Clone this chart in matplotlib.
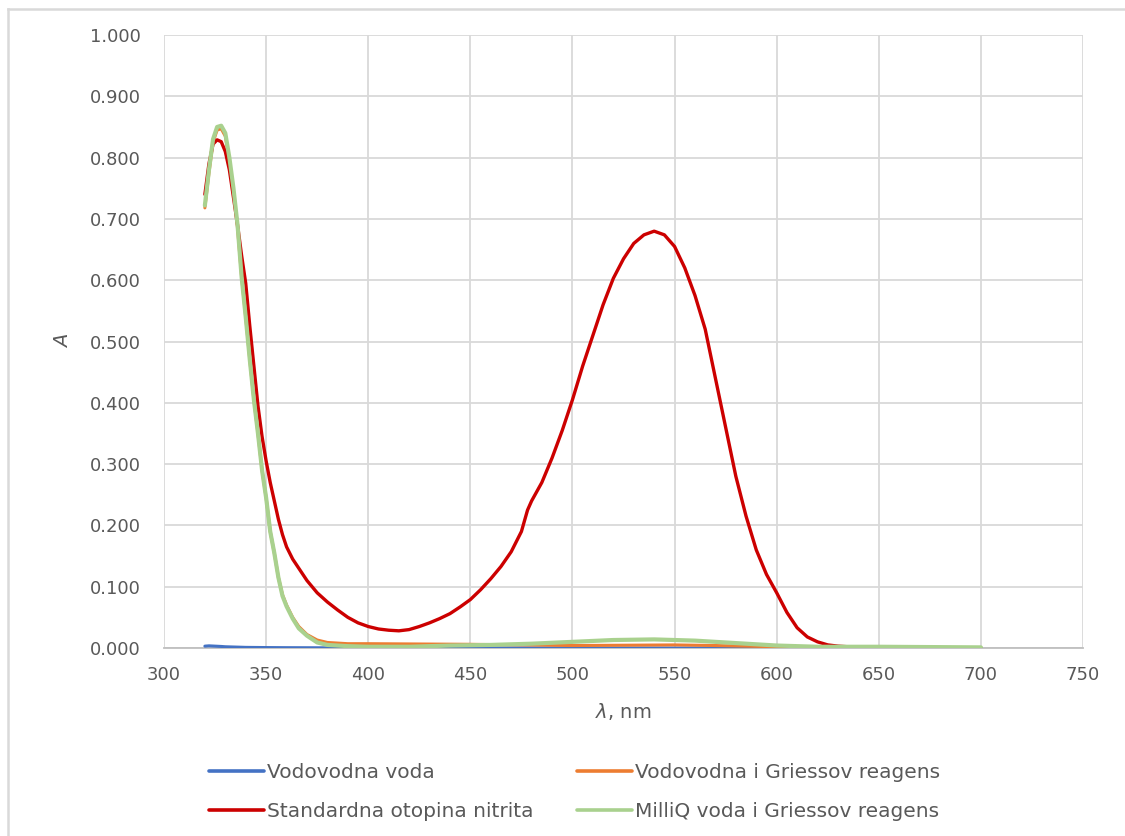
import matplotlib
matplotlib.use("Agg")
import matplotlib.pyplot as plt
from matplotlib.lines import Line2D

# wavelength (nm) and absorbance
blue_nm = [320, 322, 325, 328, 330, 335, 340, 350, 360, 380, 400, 450, 500, 550, 600, 650, 700]
blue_A = [0.003, 0.0035, 0.003, 0.0025, 0.002, 0.0015, 0.001, 0.0007, 0.0005, 0.0003, 0.0002, 0.0001, 0.0, 0.0, 0.0, 0.0, 0.0]

orange_nm = [320, 322, 324, 326, 328, 330, 332, 334, 336, 338, 340, 342, 344, 346, 348, 350,
             352, 354, 356, 358, 360, 363, 366, 370, 375, 380, 390, 400, 450, 500, 550, 570,
             600, 650, 700]
orange_A = [0.718, 0.775, 0.825, 0.845, 0.847, 0.835, 0.795, 0.745, 0.685, 0.605, 0.54, 0.47,
            0.405, 0.35, 0.29, 0.245, 0.19, 0.155, 0.115, 0.087, 0.07, 0.05, 0.035, 0.022, 0.013,
            0.009, 0.007, 0.007, 0.006, 0.004, 0.005, 0.004, 0.002, 0.001, 0.0]

red_nm = [320, 322, 324, 326, 328, 330, 332, 334, 336, 338, 340, 342, 344, 346, 348, 350, 352,
          354, 356, 358, 360, 363, 366, 370, 375, 380, 385, 390, 395, 400, 405, 410, 415, 420,
          425, 430, 435, 440, 445, 450, 455, 460, 465, 470, 475, 478, 480, 485, 490, 495, 500,
          505, 510, 515, 520, 525, 530, 535, 540, 545, 550, 555, 560, 565, 570, 575, 580, 585,
          590, 595, 600, 605, 610, 615, 620, 625, 630, 640, 650, 660, 680, 700]
red_A = [0.740, 0.790, 0.822, 0.829, 0.826, 0.810, 0.780, 0.735, 0.690, 0.640, 0.595, 0.525,
         0.460, 0.395, 0.345, 0.305, 0.270, 0.240, 0.210, 0.185, 0.165, 0.145, 0.130, 0.110,
         0.090, 0.075, 0.062, 0.050, 0.041, 0.035, 0.031, 0.029, 0.028, 0.030, 0.035, 0.041,
         0.048, 0.056, 0.067, 0.079, 0.095, 0.113, 0.133, 0.157, 0.190, 0.225, 0.240, 0.270,
         0.310, 0.355, 0.405, 0.460, 0.510, 0.560, 0.603, 0.635, 0.660, 0.674, 0.680, 0.674,
         0.655, 0.620, 0.575, 0.520, 0.440, 0.360, 0.280, 0.215, 0.160, 0.120, 0.090, 0.058,
         0.033, 0.018, 0.010, 0.005, 0.003, 0.001, 0.001, 0.0, 0.0, 0.0]

green_nm = [320, 322, 324, 326, 328, 330, 332, 334, 336, 338, 340, 342, 344, 346, 348, 350,
            352, 354, 356, 358, 360, 363, 366, 370, 375, 380, 390, 400, 420, 440, 460, 480,
            500, 520, 540, 560, 580, 600, 620, 650, 700]
green_A = [0.722, 0.780, 0.830, 0.850, 0.852, 0.840, 0.800, 0.750, 0.690, 0.605, 0.540, 0.470,
           0.405, 0.350, 0.290, 0.245, 0.190, 0.155, 0.115, 0.085, 0.068, 0.048, 0.032, 0.020,
           0.009, 0.005, 0.003, 0.002, 0.002, 0.004, 0.005, 0.007, 0.010, 0.013, 0.014, 0.012,
           0.008, 0.004, 0.002, 0.002, 0.001]

labels = ["Vodovodna voda", "Vodovodna i Griessov reagens",
          "Standardna otopina nitrita", "MilliQ voda i Griessov reagens"]
colors = ["#4472c4", "#ed7d31", "#cc0000", "#a9d18e"]

x_ticks = [300, 350, 400, 450, 500, 550, 600, 650, 700, 750]
y_ticks = [0.0, 0.1, 0.2, 0.3, 0.4, 0.5, 0.6, 0.7, 0.8, 0.9, 1.0]

plt.rcParams['font.family'] = ['DejaVu Sans']
txt = "#595959"

fig = plt.figure(figsize=(11.25, 8.36), dpi=100)
ax = fig.add_axes([0.1458, 0.2249, 0.9627 - 0.1458, 0.9581 - 0.2249])

series = [(blue_nm, blue_A), (orange_nm, orange_A), (red_nm, red_A), (green_nm, green_A)]
widths = [2.2, 2.2, 2.4, 3.0]
lines = []
for (x, y), c, w, lab in zip(series, colors, widths, labels):
    ln, = ax.plot(x, y, color=c, lw=w, label=lab, solid_capstyle='round',
                  solid_joinstyle='round', zorder=3)
    lines.append(ln)

ax.set_xlim(300, 750)
ax.set_ylim(0, 1.0)
ax.set_xticks(x_ticks)
ax.set_yticks(y_ticks)
ax.set_yticklabels(["%.3f" % v for v in y_ticks])
ax.grid(True, color="#d9d9d9", lw=1.3, zorder=0)
ax.set_axisbelow(True)
for s in ['left', 'right', 'top']:
    ax.spines[s].set_visible(False)
ax.spines['bottom'].set_color("#bfbfbf")
ax.spines['bottom'].set_linewidth(1.3)
ax.spines['bottom'].set_zorder(2)
ax.tick_params(axis='both', length=0, labelsize=13, labelcolor=txt)
ax.tick_params(axis='x', pad=13)
ax.tick_params(axis='y', pad=17)

ax.set_xlabel(r"$\lambda$, nm", fontsize=14, color=txt, labelpad=12)
ax.set_ylabel("A", fontsize=14, color=txt, style='italic', labelpad=12)

# legend laid out row by row like the reference
order = [0, 2, 1, 3]
leg = fig.legend([lines[i] for i in order], [labels[i] for i in order],
                 loc='center', bbox_to_anchor=(0.5107, 0.0526), ncol=2, frameon=False,
                 fontsize=14.5, handlelength=2.7, handletextpad=0.15, columnspacing=2.2,
                 labelspacing=0.95, labelcolor=txt, borderpad=0.2)
for h in leg.legend_handles:
    h.set_linewidth(2.6)

# outer chart frame (only top and left edges are visible)
fig.add_artist(Line2D([8 / 1125, 1.0], [1 - 9 / 836, 1 - 9 / 836], color="#d9d9d9", lw=1.8))
fig.add_artist(Line2D([8 / 1125, 8 / 1125], [0.0, 1 - 9 / 836], color="#d9d9d9", lw=1.8))

fig.savefig("out.png", dpi=100)
